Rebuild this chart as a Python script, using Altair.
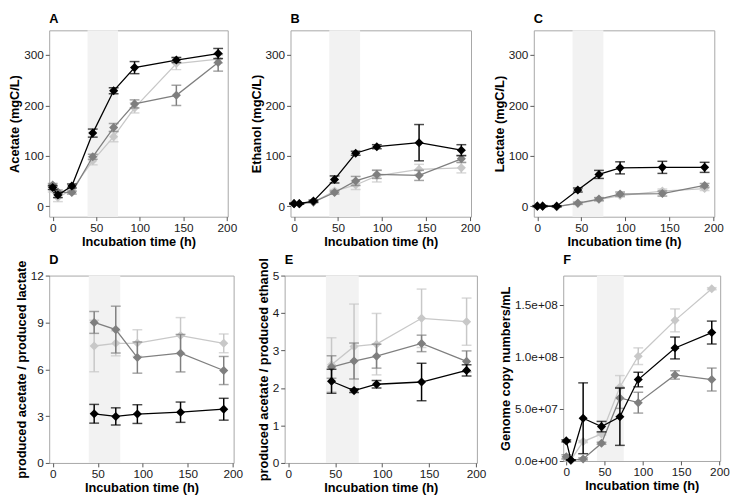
import altair as alt
import pandas as pd

# ---------------- data ----------------
TIME = [0, 6, 22, 46, 70, 94, 142, 190]
TIME_RATIO = [46, 70, 94, 142, 190]
SHADE = [40, 75]

X_TICKS = [0, 50, 100, 150, 200]

# Panel A: Acetate (mgC/L)
ACE_BLACK = [37, 22, 40, 145, 229, 275, 290, 303]
ACE_BLACK_ERR = [4, 5, 4, 8, 6, 12, 5, 10]
ACE_DARK = [42, 28, 27, 98, 156, 203, 220, 285]
ACE_DARK_ERR = [3, 4, 3, 5, 8, 8, 20, 17]
ACE_LIGHT = [33, 17, 33, 90, 138, 195, 283, 292]
ACE_LIGHT_ERR = [5, 8, 4, 8, 10, 10, 12, 8]

# Panel B: Ethanol (mgC/L)
ETH_BLACK = [5, 5, 10, 53, 105, 118, 126, 111]
ETH_BLACK_ERR = [1, 1, 2, 7, 4, 4, 36, 11]
ETH_DARK = [5, 5, 8, 27, 50, 63, 61, 94]
ETH_DARK_ERR = [1, 1, 1, 3, 9, 8, 10, 7]
ETH_LIGHT = [5, 5, 8, 30, 42, 60, 73, 76]
ETH_LIGHT_ERR = [1, 1, 1, 3, 9, 12, 10, 10]

# Panel C: Lactate (mgC/L)
LAC_BLACK = [0, 0, 0, 32, 63, 76, 77, 77]
LAC_BLACK_ERR = [1, 1, 1, 4, 8, 12, 12, 10]
LAC_DARK = [0, 0, -1, 6, 14, 24, 25, 41]
LAC_DARK_ERR = [1, 1, 1, 2, 3, 4, 5, 4]
LAC_LIGHT = [0, 0, -1, 5, 13, 21, 30, 35]
LAC_LIGHT_ERR = [1, 1, 1, 2, 3, 3, 4, 4]

# Panel D: produced acetate / produced lactate
RAL_BLACK = [3.15, 2.98, 3.13, 3.25, 3.44]
RAL_BLACK_ERR = [0.6, 0.55, 0.6, 0.65, 0.7]
RAL_DARK = [9.0, 8.54, 6.75, 7.03, 5.92]
RAL_DARK_ERR = [0.7, 1.5, 1.0, 1.2, 0.9]
RAL_LIGHT = [7.49, 7.66, 7.68, 8.16, 7.66]
RAL_LIGHT_ERR = [1.65, 0.8, 0.85, 1.15, 0.6]

# Panel E: produced acetate / produced ethanol
RAE_BLACK = [2.18, 1.93, 2.10, 2.16, 2.47]
RAE_BLACK_ERR = [0.32, 0.05, 0.1, 0.5, 0.15]
RAE_DARK = [2.56, 2.72, 2.85, 3.19, 2.71]
RAE_DARK_ERR = [0.3, 0.48, 0.32, 0.22, 0.28]
RAE_LIGHT = [2.62, 3.11, 3.17, 3.86, 3.77]
RAE_LIGHT_ERR = [0.72, 1.13, 0.82, 0.78, 0.63]

# Panel F: Genome copy numbers/mL
GEN_BLACK = [1.93e7, 0.1e7, 4.1e7, 3.3e7, 4.25e7, 7.82e7, 1.085e8, 1.233e8]
GEN_BLACK_ERR = [0.1e7, 0.0, 3.4e7, 0.5e7, 2.75e7, 0.7e7, 1.05e7, 1.1e7]
GEN_DARK = [0.4e7, 0.05e7, 0.2e7, 1.7e7, 6.05e7, 5.6e7, 8.26e7, 7.82e7]
GEN_DARK_ERR = [0.2e7, 0.0, 0.1e7, 0.1e7, 1.0e7, 1.0e7, 0.4e7, 1.1e7]
GEN_LIGHT = [0.3e7, 0.1e7, 1.86e7, 2.6e7, 7.1e7, 1.006e8, 1.35e8, 1.654e8]
GEN_LIGHT_ERR = [0.1e7, 0.0, 0.1e7, 0.1e7, 1.1e7, 0.8e7, 1.1e7, 0.1e7]

COLORS = {"light": "#c8c8c8", "dark": "#7f7f7f", "black": "#000000"}

FONT = "Liberation Sans"


def make_df(t, v, e):
    df = pd.DataFrame({"t": t, "v": v, "e": e})
    df["lo"] = df["v"] - df["e"]
    df["hi"] = df["v"] + df["e"]
    return df


def panel(letter, t, series, ydom, yvals, ytitle, w, h, title_offset, label_expr=None):
    xs = alt.Scale(domain=[-4, 201], nice=False, zero=False)
    ys = alt.Scale(domain=ydom, nice=False, zero=False)
    xax = alt.Axis(values=X_TICKS, title="Incubation time (h)", labelPadding=2,
                   labelFlush=False, labelOverlap=False)
    yax_kw = dict(values=yvals, title=ytitle, labelFlush=False, labelOverlap=False)
    if label_expr:
        yax_kw["labelExpr"] = label_expr
    yax = alt.Axis(**yax_kw)

    def X(f):
        return alt.X(f, type="quantitative", scale=xs, axis=xax)

    def Y(f):
        return alt.Y(f, type="quantitative", scale=ys, axis=yax)

    band = alt.Chart(pd.DataFrame({"t": [SHADE[0]], "t2": [SHADE[1]]})).mark_rect(
        color="#f2f2f2"
    ).encode(x=X("t"), x2="t2")

    layers = [band]
    for name, (v, e) in series:
        c = COLORS[name]
        df = make_df(t, v, e)
        base = alt.Chart(df)
        layers.append(base.mark_line(color=c, strokeWidth=1.3).encode(x=X("t"), y=Y("v")))
        layers.append(base.mark_rule(color=c, strokeWidth=1.5).encode(x=X("t"), y=Y("lo"), y2="hi"))
        layers.append(
            base.mark_tick(color=c, orient="horizontal", size=10, thickness=1.5).encode(x=X("t"), y=Y("lo"))
        )
        layers.append(
            base.mark_tick(color=c, orient="horizontal", size=10, thickness=1.5).encode(x=X("t"), y=Y("hi"))
        )
        layers.append(
            base.mark_point(shape="diamond", filled=True, size=85, color=c, opacity=1).encode(
                x=X("t"), y=Y("v")
            )
        )
    return alt.layer(*layers).properties(
        width=w,
        height=h,
        title=alt.TitleParams(
            text=letter,
            anchor="start",
            frame="group",
            fontSize=13,
            font=FONT,
            fontWeight="bold",
            color="black",
            offset=title_offset,
        ),
    )


A = panel("A", TIME, [("light", (ACE_LIGHT, ACE_LIGHT_ERR)), ("dark", (ACE_DARK, ACE_DARK_ERR)),
                      ("black", (ACE_BLACK, ACE_BLACK_ERR))],
          [-21, 349], [0, 100, 200, 300], "Acetate (mgC/L)", 182, 190, 4)
B = panel("B", TIME, [("light", (ETH_LIGHT, ETH_LIGHT_ERR)), ("dark", (ETH_DARK, ETH_DARK_ERR)),
                      ("black", (ETH_BLACK, ETH_BLACK_ERR))],
          [-21, 349], [0, 100, 200, 300], "Ethanol (mgC/L)", 184, 190, 4)
C = panel("C", TIME, [("light", (LAC_LIGHT, LAC_LIGHT_ERR)), ("dark", (LAC_DARK, LAC_DARK_ERR)),
                      ("black", (LAC_BLACK, LAC_BLACK_ERR))],
          [-21, 349], [0, 100, 200, 300], "Lactate (mgC/L)", 184, 190, 4)
D = panel("D", TIME_RATIO, [("light", (RAL_LIGHT, RAL_LIGHT_ERR)), ("dark", (RAL_DARK, RAL_DARK_ERR)),
                            ("black", (RAL_BLACK, RAL_BLACK_ERR))],
          [0, 12], [0, 3, 6, 9, 12], "produced acetate / produced lactate", 188, 191, -7)
E = panel("E", TIME_RATIO, [("light", (RAE_LIGHT, RAE_LIGHT_ERR)), ("dark", (RAE_DARK, RAE_DARK_ERR)),
                            ("black", (RAE_BLACK, RAE_BLACK_ERR))],
          [0, 5], [0, 1, 2, 3, 4, 5], "produced acetate / produced ethanol", 196, 191, -9)
F = panel("F", TIME, [("light", (GEN_LIGHT, GEN_LIGHT_ERR)), ("dark", (GEN_DARK, GEN_DARK_ERR)),
                      ("black", (GEN_BLACK, GEN_BLACK_ERR))],
          [0, 1.78e8], [0, 5e7, 1e8, 1.5e8], "Genome copy numbers/mL", 160, 189, 9,
          label_expr="replace(format(datum.value, '.1e'), 'e+', 'e+0')")

top = alt.hconcat(A, B, C, spacing=64, bounds="flush")
bottom = alt.hconcat(D, alt.hconcat(E, F, spacing=88, bounds="flush"), spacing=52, bounds="flush")

chart = (
    alt.vconcat(top, bottom, spacing=4)
    .properties(padding=0)
    .configure_view(stroke="#a6a6a6", strokeWidth=1)
    .configure_axis(
        domain=False,
        grid=False,
        ticks=True,
        tickColor="#555555",
        tickSize=4,
        labelFont=FONT,
        labelFontSize=12,
        labelColor="#1a1a1a",
        labelPadding=2,
        titleFont=FONT,
        titleFontSize=13,
        titleFontWeight="bold",
        titleColor="#000000",
        titlePadding=2,
    )
)

chart.save("out.html", embed_options={"renderer": "svg", "actions": False})
